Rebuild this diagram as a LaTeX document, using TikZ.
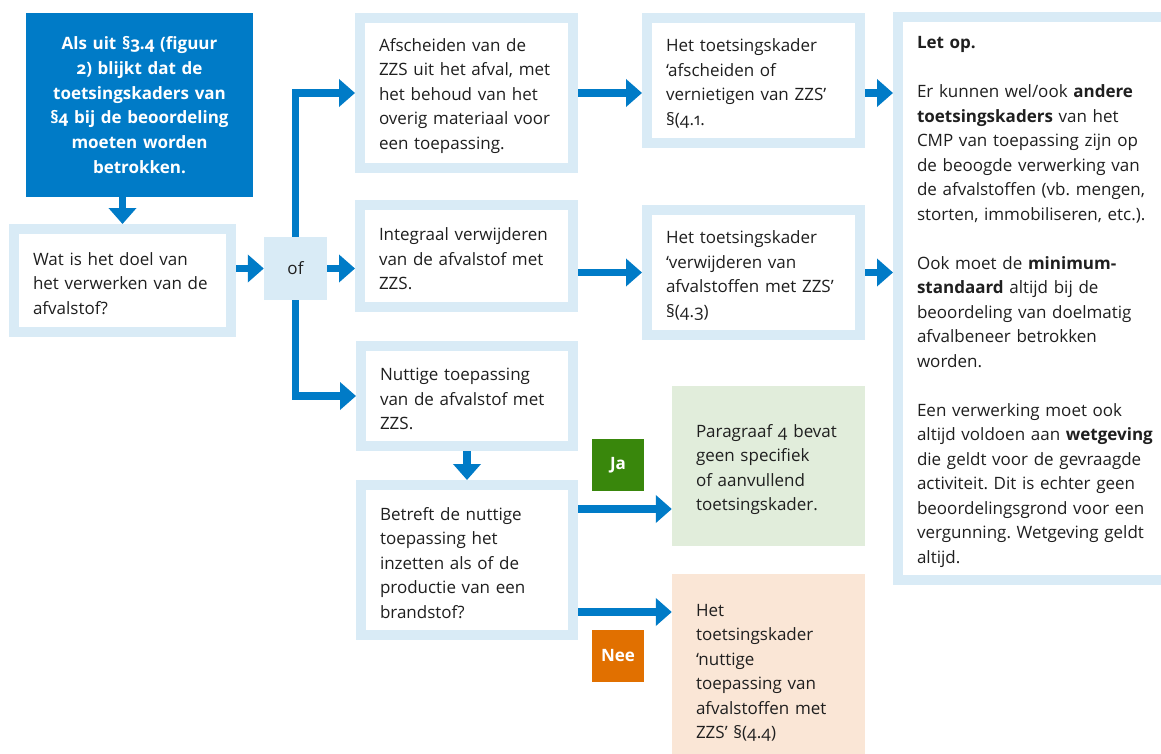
\documentclass[tikz,border=0pt]{standalone}
\usepackage{fontspec}
\setmainfont{Open Sans}[Numbers=OldStyle]
\usetikzlibrary{arrows.meta}
\definecolor{hb}{HTML}{007BC7}
\definecolor{lb}{HTML}{D9EBF6}
\definecolor{gr}{HTML}{39870C}
\definecolor{lgr}{HTML}{E1EDDB}
\definecolor{orc}{HTML}{E17000}
\definecolor{lor}{HTML}{FAE6D6}
\definecolor{tx}{HTML}{1F1F1F}
\frenchspacing
\hyphenpenalty=10000
\begin{document}
\begin{tikzpicture}[x=1pt,y=-1pt,
  txt/.style={font=\fontsize{17}{24.5}\selectfont, text=tx},
  lbox/.style={txt, draw=lb, line width=10pt, fill=white, align=left, inner xsep=19pt, inner ysep=0pt,
               execute at begin node={\rule{0pt}{19pt}}},
  fbox/.style={txt, align=left, inner xsep=24pt, inner ysep=0pt,
               execute at begin node={\rule{0pt}{20pt}}},
  tag/.style={minimum size=52pt, inner sep=0pt, text=white, font=\fontsize{17}{20}\selectfont\bfseries},
  arr/.style={draw=hb, line width=7.5pt, -{Triangle[length=16pt,width=27pt]}},
]
\fill[white] (0,0) rectangle (1161,754);
\useasboundingbox (0,0) rectangle (1161,754);

\node[fill=hb, minimum width=227pt, minimum height=184pt, text width=210pt, align=center, inner sep=0pt,
      text=white, font=\fontsize{17}{24.8}\selectfont\bfseries] (dark) at (139.5,105)
  {Als uit §3.4 (figuur\\2) blijkt dat de\\toetsingskaders van\\§4 bij de beoordeling\\moeten worden\\betrokken.};

\node[lbox, minimum width=217pt, minimum height=103pt, text width=179pt] (wat) at (122.5,280.5)
  {Wat is het doel van\\het verwerken van de\\afvalstof?};

\node[txt, fill=lb, minimum size=63pt, inner sep=0pt] (of) at (295.5,268.5) {of};

\node[lbox, minimum width=213pt, minimum height=150pt, text width=175pt] (afs) at (466.5,93)
  {Afscheiden van de\\ZZS uit het afval, met\\het behoud van het\\overig materiaal voor\\een toepassing.};

\node[lbox, minimum width=213pt, minimum height=102pt, text width=175pt] (int) at (466.5,256)
  {Integraal verwijderen\\van de afvalstof met\\ZZS.};

\node[lbox, minimum width=212pt, minimum height=100pt, text width=174pt] (nut) at (467,396)
  {Nuttige toepassing\\van de afvalstof met\\ZZS.};

\node[lbox, minimum width=212pt, minimum height=150pt, text width=174pt] (bet) at (467,560)
  {Betreft de nuttige\\toepassing het\\inzetten als of de\\productie van een\\brandstof?};

\node[lbox, minimum width=213pt, minimum height=125pt, text width=175pt] (ht1) at (753.5,80.5)
  {Het toetsingskader\\‘afscheiden of\\vernietigen van ZZS’\\§(4.1.};

\node[lbox, minimum width=213pt, minimum height=125pt, text width=175pt] (ht2) at (753.5,272.5)
  {Het toetsingskader\\‘verwijderen van\\afvalstoffen met ZZS’\\§(4.3)};

\node[lbox, minimum width=288pt, minimum height=563pt, text width=250pt] (letop) at (1042,298.5)
  {\textbf{Let op.}\\[24.5pt]
   Er kunnen wel/ook \textbf{andere}\\\textbf{toetsingskaders} van het\\CMP van toepassing zijn op\\de beoogde verwerking van\\de afvalstoffen (vb. mengen,\\storten, immobiliseren, etc.).\\[24.5pt]
   Ook moet de \textbf{minimum-}\\\textbf{standaard} altijd bij de\\beoordeling van doelmatig\\afvalbeneer betrokken\\worden.\\[24.5pt]
   Een verwerking moet ook\\altijd voldoen aan \textbf{wetgeving}\\die geldt voor de gevraagde\\activiteit. Dit is echter geen\\beoordelingsgrond voor een\\vergunning. Wetgeving geldt\\altijd.};

\node[fbox, fill=lgr, minimum width=193pt, minimum height=160pt, text width=145pt] (green) at (768.5,466)
  {Paragraaf 4 bevat\\geen specifiek\\of aanvullend\\toetsingskader.};

\node[fbox, fill=lor, minimum width=193pt, minimum height=190pt, text width=145pt] (orange) at (768.5,669)
  {Het\\toetsingskader\\‘nuttige\\toepassing van\\afvalstoffen met\\ZZS’ §(4.4)};

\node[tag, fill=gr] (ja) at (618,465) {Ja};
\node[tag, fill=orc] (nee) at (618,656) {Nee};

\coordinate (jaY) at (0,509);
\coordinate (neeY) at (0,612);

\draw[arr] (dark.south -| wat.north) -- (wat.north);
\draw[arr] (of.west -| wat.east) -- (of.west);
\draw[arr] (of.east) -- (of.east -| int.west);
\draw[arr] (of.north) |- (afs.west);
\draw[arr] (of.south) |- (nut.west);
\draw[arr] (afs.east) -- (afs.east -| ht1.west);
\draw[arr] (ht2.west -| int.east) -- (ht2.west);
\draw[arr] (ht1.east |- afs.east) -- (letop.west |- afs.east);
\draw[arr] (ht2.east) -- (ht2.east -| letop.west);
\draw[arr] (nut.south) -- (bet.north);
\draw[arr] (bet.east |- jaY) -- (green.west |- jaY);
\draw[arr] (bet.east |- neeY) -- (orange.west |- neeY);
\end{tikzpicture}
\end{document}
